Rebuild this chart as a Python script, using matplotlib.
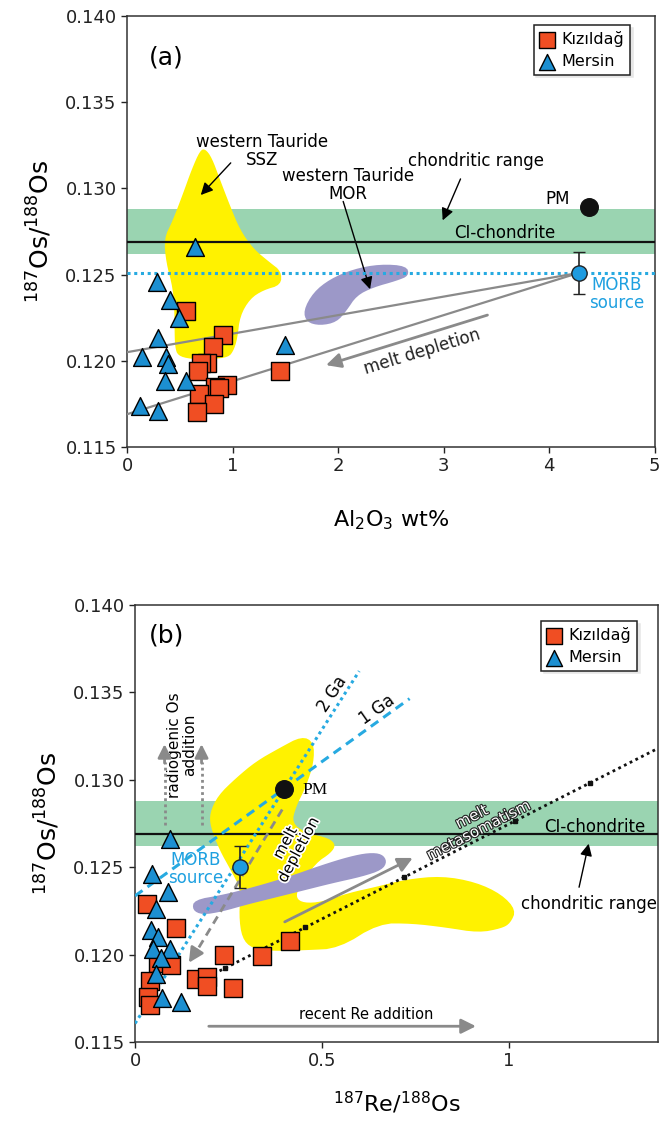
import numpy as np
import matplotlib
matplotlib.use("Agg")
import matplotlib.pyplot as plt
import matplotlib.patheffects as pe

# ---------------- data: panel (a) ----------------
kiz_al = [0.56, 0.91, 0.81, 0.76, 0.70, 0.67, 1.45, 0.95, 0.83, 0.87, 0.68, 0.82, 0.66]
kiz_os_a = [0.1229, 0.1215, 0.1208, 0.1199, 0.1199, 0.1194, 0.1194, 0.1186, 0.1185,
            0.1184, 0.1181, 0.1175, 0.1170]
mer_al = [0.64, 0.28, 0.41, 0.49, 0.29, 1.50, 0.14, 0.37, 0.39, 0.36, 0.56, 0.12, 0.29]
mer_os_a = [0.1266, 0.1246, 0.1235, 0.1225, 0.1213, 0.1209, 0.1202, 0.1202, 0.1198,
            0.1188, 0.1188, 0.1174, 0.1171]

pm_a = (4.38, 0.1289)
morb_a = (4.28, 0.1251)
morb_err = 0.0012
ci_chondrite = 0.1269
chondritic_range = (0.1262, 0.1288)
morb_line = 0.1251
mix_left_os = [0.1205, 0.1169]

ssz_a_x = [0.739, 0.802, 0.881, 0.975, 1.07, 1.196, 1.354, 1.46, 1.46, 1.291, 1.165,
           1.07, 1.045, 1.01, 0.96, 0.80, 0.60, 0.48, 0.455, 0.45, 0.45, 0.435, 0.37,
           0.35, 0.43, 0.53, 0.612, 0.691]
ssz_a_y = [0.1323, 0.1318, 0.1305, 0.1290, 0.1276, 0.1265, 0.1257, 0.1252, 0.1244,
           0.1241, 0.1236, 0.1226, 0.1213, 0.1206, 0.1202, 0.1201, 0.1201, 0.1203,
           0.1208, 0.1216, 0.1226, 0.1242, 0.1257, 0.1271, 0.1281, 0.1297, 0.1311, 0.1322]
mor_a_x = [1.67, 1.764, 1.922, 2.143, 2.396, 2.649, 2.673, 2.554, 2.333, 2.175, 2.08,
           1.986, 1.828, 1.702]
mor_a_y = [0.12291, 0.12397, 0.12474, 0.12532, 0.12561, 0.12551, 0.12494, 0.12464,
           0.12426, 0.12378, 0.12291, 0.12224, 0.12204, 0.12224]

# ---------------- data: panel (b) ----------------
kiz_re = [0.033, 0.11, 0.062, 0.097, 0.039, 0.035, 0.039, 0.239, 0.339, 0.416, 0.162,
          0.193, 0.193, 0.263]
kiz_os_b = [0.1229, 0.1215, 0.1195, 0.1194, 0.1185, 0.1176, 0.1171, 0.1200, 0.1199,
            0.1208, 0.1186, 0.1187, 0.1182, 0.1181]
mer_re = [0.094, 0.045, 0.088, 0.057, 0.042, 0.0615, 0.049, 0.094, 0.069, 0.057, 0.071, 0.124]
mer_os_b = [0.1266, 0.1246, 0.1236, 0.1226, 0.1214, 0.1210, 0.1203, 0.1203, 0.1198,
            0.1189, 0.1175, 0.1173]

pm_b = (0.400, 0.1295)
morb_b = (0.281, 0.1250)
ga1_x = [0.0, 0.735]
ga1_slope = 0.01535
ga2_x = [0.0, 0.60]
ga2_slope = 0.0336
meta_x = [0.211, 1.40]
meta_y = [0.1189, 0.1318]
meta_ticks = [0.242, 0.456, 0.719, 1.018, 1.218]

ssz_b_x = [0.4465, 0.4786, 0.4786, 0.4572, 0.4305, 0.4198, 0.4572, 0.5187, 0.5374, 0.5241,
           0.484, 0.4385, 0.4305, 0.4519, 0.50, 0.5722, 0.6444, 0.7246, 0.8209, 0.9118,
           0.9813, 1.02, 1.005, 0.9813, 0.9198, 0.8316, 0.7406, 0.6524, 0.5455, 0.4572,
           0.3663, 0.3128, 0.2860, 0.2780, 0.2840, 0.2560, 0.2260, 0.2020, 0.2000, 0.2220,
           0.2701, 0.3235, 0.385]
ssz_b_y = [0.13250, 0.13215, 0.13096, 0.12959, 0.12845, 0.12753, 0.12696, 0.12667, 0.12627,
           0.12581, 0.12524, 0.12387, 0.12324, 0.12295, 0.12301, 0.12353, 0.12387, 0.12430,
           0.12450, 0.12415, 0.12345, 0.12255, 0.12180, 0.12150, 0.12125, 0.12155, 0.12178,
           0.12178, 0.12035, 0.12025, 0.12020, 0.12035, 0.12095, 0.12227, 0.12370, 0.12484,
           0.12599, 0.12730, 0.12810, 0.12910, 0.13010, 0.13105, 0.13180]
mor_b_x = [0.1578, 0.2335, 0.3226, 0.4118, 0.5009, 0.5722, 0.6257, 0.6613, 0.6747, 0.6613,
           0.6078, 0.5276, 0.4385, 0.3671, 0.296, 0.2335, 0.18, 0.1533]
mor_b_y = [0.12313, 0.12341, 0.12389, 0.12446, 0.12513, 0.1256, 0.12583, 0.12576, 0.12532,
           0.12484, 0.12446, 0.12408, 0.1236, 0.12322, 0.12284, 0.12246, 0.12227, 0.12255]

SQ = '#f04e23'
TRI = '#1c8fd1'
BLUE = '#27aae1'
GREEN = '#9ad4b1'
YELLOW = '#fff200'
PURPLE = '#9c98c8'
GRAY = '#8a8a8a'
FS = 12


def smooth(xs, ys, n=2):
    # chaikin corner cutting so the fields look like hand drawn blobs
    pts = np.column_stack([xs, ys])
    for _ in range(n):
        nxt = np.roll(pts, -1, axis=0)
        q = 0.75 * pts + 0.25 * nxt
        r = 0.25 * pts + 0.75 * nxt
        out = np.empty((2 * len(pts), 2))
        out[0::2] = q
        out[1::2] = r
        pts = out
    return pts


def style_axes(ax):
    for s in ax.spines.values():
        s.set_linewidth(1.1)
        s.set_color('#333333')
    ax.tick_params(direction='out', length=4, width=1, labelsize=13, colors='#222222')


def samples(ax, xs1, ys1, xs2, ys2):
    ax.scatter(xs1, ys1, marker='s', s=150, c=SQ, edgecolors='black', linewidths=1.0,
               zorder=7, label='Kızıldağ')
    ax.scatter(xs2, ys2, marker='^', s=165, c=TRI, edgecolors='black', linewidths=1.0,
               zorder=7, label='Mersin')


def legend(ax, anchor):
    lg = ax.legend(loc='upper right', bbox_to_anchor=anchor, borderaxespad=0,
                   fancybox=False, shadow={'color': '0.9', 'alpha': 1}, fontsize=11.5,
                   handletextpad=0.4, borderpad=0.35, labelspacing=0.45,
                   handlelength=1.0, markerscale=0.9)
    lg.get_frame().set_edgecolor('#222222')
    lg.get_frame().set_linewidth(1.1)


fig = plt.figure(figsize=(6.62, 11.25), dpi=100)

# ================= panel (a) =================
ax = fig.add_axes([0.192, 0.6027, 0.797, 0.383])
ax.set_xlim(0, 5)
ax.set_ylim(0.115, 0.140)
ax.axhspan(*chondritic_range, color=GREEN, lw=0, zorder=1)
p = smooth(ssz_a_x, ssz_a_y)
ax.fill(p[:, 0], p[:, 1], color=YELLOW, lw=0, zorder=2)
p = smooth(mor_a_x, mor_a_y)
ax.fill(p[:, 0], p[:, 1], color=PURPLE, lw=0, zorder=2)
ax.axhline(ci_chondrite, color='#111111', lw=1.6, zorder=4)
ax.axhline(morb_line, color=BLUE, lw=2.2, ls=(0, (1, 1.2)), zorder=4)
for y0 in mix_left_os:
    ax.plot([0, morb_a[0]], [y0, morb_a[1]], color=GRAY, lw=1.6, zorder=4)

ax.annotate('', xy=(1.86, 0.1197), xytext=(3.44, 0.1227),
            arrowprops=dict(arrowstyle='-|>', color=GRAY, lw=2, mutation_scale=22), zorder=4)
ax.text(2.80, 0.1205, 'melt depletion', rotation=17, ha='center', va='center',
        fontsize=FS, color='#222222')

samples(ax, kiz_al, kiz_os_a, mer_al, mer_os_a)
ax.scatter(*pm_a, s=160, c='#111111', zorder=7)
ax.errorbar(*morb_a, yerr=morb_err, fmt='o', ms=11, mfc='#1e9be0', mec='#222222',
            ecolor='#222222', elinewidth=1.2, capsize=4, zorder=7)

ax.text(4.2, 0.1294, 'PM', ha='right', va='center', fontsize=FS)
ax.text(4.64, 0.1239, 'MORB\nsource', ha='center', va='center', fontsize=FS,
        color='#1ea0e0', linespacing=1.0)
ax.text(3.58, 0.1274, 'CI-chondrite', ha='center', va='center', fontsize=FS)
ax.text(3.31, 0.1316, 'chondritic range', ha='center', va='center', fontsize=FS)
ax.annotate('', xy=(2.98, 0.1280), xytext=(3.17, 0.1307),
            arrowprops=dict(arrowstyle='-|>', color='black', lw=1, mutation_scale=18))
ax.text(2.09, 0.1302, 'western Tauride\nMOR', ha='center', va='center', fontsize=FS,
        linespacing=1.0)
ax.annotate('', xy=(2.31, 0.1240), xytext=(2.04, 0.1294),
            arrowprops=dict(arrowstyle='-|>', color='black', lw=1, mutation_scale=18))
ax.text(1.28, 0.1322, 'western Tauride\nSSZ', ha='center', va='center', fontsize=FS,
        linespacing=1.0)
ax.annotate('', xy=(0.68, 0.1295), xytext=(1.0, 0.1316),
            arrowprops=dict(arrowstyle='-|>', color='black', lw=1, mutation_scale=18))
ax.text(0.074, 0.905, '(a)', transform=ax.transAxes, fontsize=18, ha='center', va='center')

ax.set_xticks([0, 1, 2, 3, 4, 5])
ax.set_yticks([0.115, 0.120, 0.125, 0.130, 0.135, 0.140])
ax.set_yticklabels(['0.115', '0.120', '0.125', '0.130', '0.135', '0.140'])
ax.set_xlabel(r'Al$_2$O$_3$ wt%', fontsize=16, labelpad=24)
ax.set_ylabel(r'$^{187}$Os/$^{188}$Os', fontsize=18, labelpad=8)
style_axes(ax)
legend(ax, (0.953, 0.979))

# ================= panel (b) =================
bx = fig.add_axes([0.204, 0.0738, 0.790, 0.3884])
bx.set_xlim(0, 1.4)
bx.set_ylim(0.115, 0.140)
bx.axhspan(*chondritic_range, color=GREEN, lw=0, zorder=1)
p = smooth(ssz_b_x, ssz_b_y)
bx.fill(p[:, 0], p[:, 1], color=YELLOW, lw=0, zorder=2)
p = smooth(mor_b_x, mor_b_y)
bx.fill(p[:, 0], p[:, 1], color=PURPLE, lw=0, zorder=3)
bx.axhline(ci_chondrite, color='#111111', lw=1.6, zorder=4)

g1 = np.array(ga1_x)
bx.plot(g1, pm_b[1] + ga1_slope * (g1 - pm_b[0]), color=BLUE, lw=2.2, ls=(0, (3, 2)), zorder=4)
g2 = np.array(ga2_x)
bx.plot(g2, pm_b[1] + ga2_slope * (g2 - pm_b[0]), color=BLUE, lw=2.2, ls=(0, (1, 1.2)), zorder=4)
bx.text(0.528, 0.1349, '2 Ga', rotation=57, ha='center', va='center', fontsize=FS)
bx.text(0.648, 0.1340, '1 Ga', rotation=35, ha='center', va='center', fontsize=FS)

bx.plot(meta_x, meta_y, color='#111111', lw=2, ls=(0, (1, 1.3)), zorder=4)
mt = np.array(meta_ticks)
bx.plot(mt, np.interp(mt, meta_x, meta_y), 's', ms=2.5, color='#111111', zorder=4)

# melt depletion (dashed) and metasomatism arrows
bx.plot([0.394, 0.165], [0.1283, 0.1202], color=GRAY, lw=2, ls=(0, (3, 2)), zorder=5)
bx.annotate('', xy=(0.14, 0.1194), xytext=(0.17, 0.1204),
            arrowprops=dict(arrowstyle='-|>', color=GRAY, lw=2, mutation_scale=22), zorder=5)
bx.annotate('', xy=(0.75, 0.1256), xytext=(0.394, 0.1218),
            arrowprops=dict(arrowstyle='-|>', color=GRAY, lw=2, mutation_scale=22), zorder=5)
bx.annotate('', xy=(0.92, 0.1159), xytext=(0.19, 0.1159),
            arrowprops=dict(arrowstyle='-|>', color=GRAY, lw=2, mutation_scale=22), zorder=5)
for xr in [0.079, 0.178]:
    bx.plot([xr, xr], [0.1274, 0.1310], color=GRAY, lw=2, ls=(0, (1, 1.2)), zorder=5)
    bx.annotate('', xy=(xr, 0.1322), xytext=(xr, 0.1308),
                arrowprops=dict(arrowstyle='-|>', color=GRAY, lw=2, mutation_scale=20), zorder=5)

samples(bx, kiz_re, kiz_os_b, mer_re, mer_os_b)
bx.scatter(*pm_b, s=160, c='#111111', zorder=7)
bx.errorbar(*morb_b, yerr=morb_err, fmt='o', ms=11, mfc='#1e9be0', mec='#222222',
            ecolor='#222222', elinewidth=1.2, capsize=4, zorder=7)

bx.text(0.483, 0.1294, 'PM', ha='center', va='center', fontsize=12.5, family='Liberation Serif')
bx.text(0.163, 0.1249, 'MORB\nsource', ha='center', va='center', fontsize=FS,
        color='#1ea0e0', linespacing=1.0)
bx.text(0.127, 0.1320, 'radiogenic Os\naddition', rotation=90, ha='center', va='center',
        fontsize=11, linespacing=1.0)
bx.text(0.42, 0.1262, 'melt\ndepletion', rotation=62, ha='center', va='center',
        fontsize=11, linespacing=1.0,
        path_effects=[pe.withStroke(linewidth=2.5, foreground='white')], zorder=6)
bx.text(0.911, 0.1275, 'melt\nmetasomatism', rotation=27, ha='center', va='center',
        fontsize=11, linespacing=1.0, color='white',
        path_effects=[pe.withStroke(linewidth=1.6, foreground='#222222')], zorder=6)
bx.text(1.231, 0.1273, 'CI-chondrite', ha='center', va='center', fontsize=FS)
bx.text(1.398, 0.1229, 'chondritic range', ha='right', va='center', fontsize=FS, clip_on=False)
bx.annotate('', xy=(1.216, 0.1265), xytext=(1.187, 0.1237),
            arrowprops=dict(arrowstyle='-|>', color='black', lw=1, mutation_scale=18))
bx.text(0.618, 0.1166, 'recent Re addition', ha='center', va='center', fontsize=10.5)
bx.text(0.061, 0.931, '(b)', transform=bx.transAxes, fontsize=18, ha='center', va='center')

bx.set_xticks([0, 0.5, 1])
bx.set_xticklabels(['0', '0.5', '1'])
bx.set_yticks([0.115, 0.120, 0.125, 0.130, 0.135, 0.140])
bx.set_yticklabels(['0.115', '0.120', '0.125', '0.130', '0.135', '0.140'])
bx.set_xlabel(r'$^{187}$Re/$^{188}$Os', fontsize=16, labelpad=14)
bx.set_ylabel(r'$^{187}$Os/$^{188}$Os', fontsize=18, labelpad=8)
style_axes(bx)
legend(bx, (0.96, 0.963))

fig.savefig('out.png', dpi=100)
